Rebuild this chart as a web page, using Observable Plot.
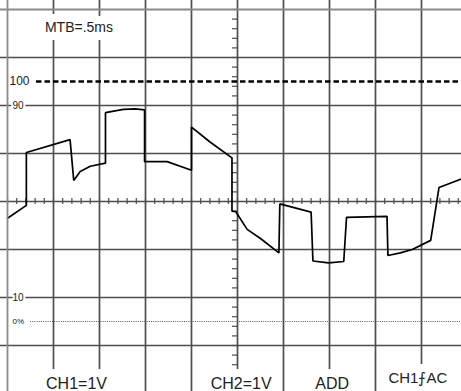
<!DOCTYPE html>
<html>
<head>
<meta charset="utf-8">
<script src="https://cdn.jsdelivr.net/npm/d3@7"></script>
<script src="https://cdn.jsdelivr.net/npm/@observablehq/plot@0.6"></script>
<style>
  html, body { margin: 0; padding: 0; background: #fff; }
  #chart svg { display: block; }
</style>
</head>
<body>
<div id="chart"></div>
<script>
// Time base: MTB = .5 ms per division; CH1 = 1 V per division
const timeMs = [0, 0.205, 0.205, 0.68, 0.72, 0.79, 0.90, 1.065, 1.065, 1.26, 1.39, 1.49, 1.49, 1.735, 2.0, 2.0,
  2.205, 2.44, 2.44, 2.48, 2.605, 2.75, 2.95, 2.96, 3.30, 3.32, 3.49, 3.655, 3.685, 4.125, 4.135, 4.27, 4.40, 4.60, 4.69, 4.935];
const volts = [-0.35, -0.08, 1.02, 1.29, 0.44, 0.625, 0.735, 0.80, 1.85, 1.92, 1.93, 1.91, 0.83, 0.83, 0.65, 1.55,
  1.235, 0.91, -0.20, -0.21, -0.58, -0.77, -1.07, -0.05, -0.22, -1.24, -1.28, -1.25, -0.33, -0.31, -1.125, -1.07, -1.0, -0.81, 0.29, 0.47];

// Rise-time reference levels (percent)
const pctLevels = [100, 90, 10, 0];
const pctText = ["100", "90", "10", "0%"];

// Graticule labels
const topLabel = "MTB=.5ms";
const chLabels = ["CH1=1V", "CH2=1V", "ADD", "CH1\u2A0DAC"];
const chLabelTimes = [0.75, 2.54, 3.53, 4.46];

const pctToV = p => (p - 50) / 20;

const wave = timeMs.map((t, i) => ({t, v: volts[i]}));

const majorT = d3.range(0, 5.001, 0.5);
const majorV = d3.range(-4, 4.001, 1);
const minorT = d3.range(0, 5.001, 0.1);
const minorV = d3.range(-4, 4.001, 0.2);

const font = "Liberation Sans, Arial, sans-serif";
const gridColor = "#4d4d4d";

// text with a white knock-out halo drawn underneath
function haloText(data, opts, haloWidth) {
  return [
    Plot.text(data, {...opts, fill: "#fff", stroke: "#fff", strokeWidth: haloWidth, strokeLinejoin: "round"}),
    Plot.text(data, {...opts, fill: "#222"})
  ];
}

const chart = Plot.plot({
  width: 461,
  height: 391,
  margin: 0,
  x: {domain: [0, 5], range: [7, 467], axis: null},
  y: {domain: [-4, 4], range: [393, 9], axis: null},
  style: {background: "#fff", fontFamily: font},
  marks: [
    // major graticule
    Plot.ruleX(majorT.filter(d => d > 0), {stroke: gridColor, strokeWidth: 1.7}),
    Plot.ruleY(majorV.filter(d => d < 4), {stroke: gridColor, strokeWidth: 1.7}),
    // minor ticks on the centre axes
    Plot.ruleX(minorT, {y1: 0, y2: 0, insetTop: -3, insetBottom: -3, stroke: gridColor, strokeWidth: 1.2}),
    Plot.ruleY(minorV, {x1: 2.5, x2: 2.5, insetLeft: -5, insetRight: 0, stroke: gridColor, strokeWidth: 1.2}),
    // 100 % and 0 % reference lines
    Plot.ruleY([pctToV(pctLevels[0])], {x1: 0.315, x2: 5, stroke: "#000", strokeWidth: 2.3, strokeDasharray: "5.5,3"}),
    Plot.ruleY([pctToV(pctLevels[3])], {x1: 0.25, x2: 5, stroke: "#555", strokeWidth: 1, strokeDasharray: "1,1.2"}),
    // signal
    Plot.line(wave, {x: "t", y: "v", stroke: "#000", strokeWidth: 1.7, strokeLinejoin: "miter"}),
    // percent labels
    ...haloText([0], {x: 0, y: i => pctToV(pctLevels[i]), text: i => pctText[i], dx: 2, textAnchor: "start", fontSize: 12}, 3),
    ...haloText([1, 2], {x: 0, y: i => pctToV(pctLevels[i]), text: i => pctText[i], dx: 5, textAnchor: "start", fontSize: 10}, 4),
    ...haloText([3], {x: 0, y: i => pctToV(pctLevels[i]), text: i => pctText[i], dx: 5, textAnchor: "start", fontSize: 8}, 3),
    // time base label
    ...haloText([topLabel], {x: 0.777, y: 3.625, text: d => d, fontSize: 14}, 16),
    // channel labels
    ...haloText([0, 1, 2], {x: i => chLabelTimes[i], y: -3.79, text: i => chLabels[i], fontSize: 16, letterSpacing: "0.5px"}, 16),
    ...haloText([3], {x: i => chLabelTimes[i], y: -3.69, text: i => chLabels[i], fontSize: 15}, 16),
    // outer border (left and top)
    Plot.ruleX([0], {stroke: "#8a8a8a", strokeWidth: 1.8}),
    Plot.ruleY([4], {stroke: "#8a8a8a", strokeWidth: 1.8})
  ]
});
document.getElementById("chart").appendChild(chart);
</script>
</body>
</html>
